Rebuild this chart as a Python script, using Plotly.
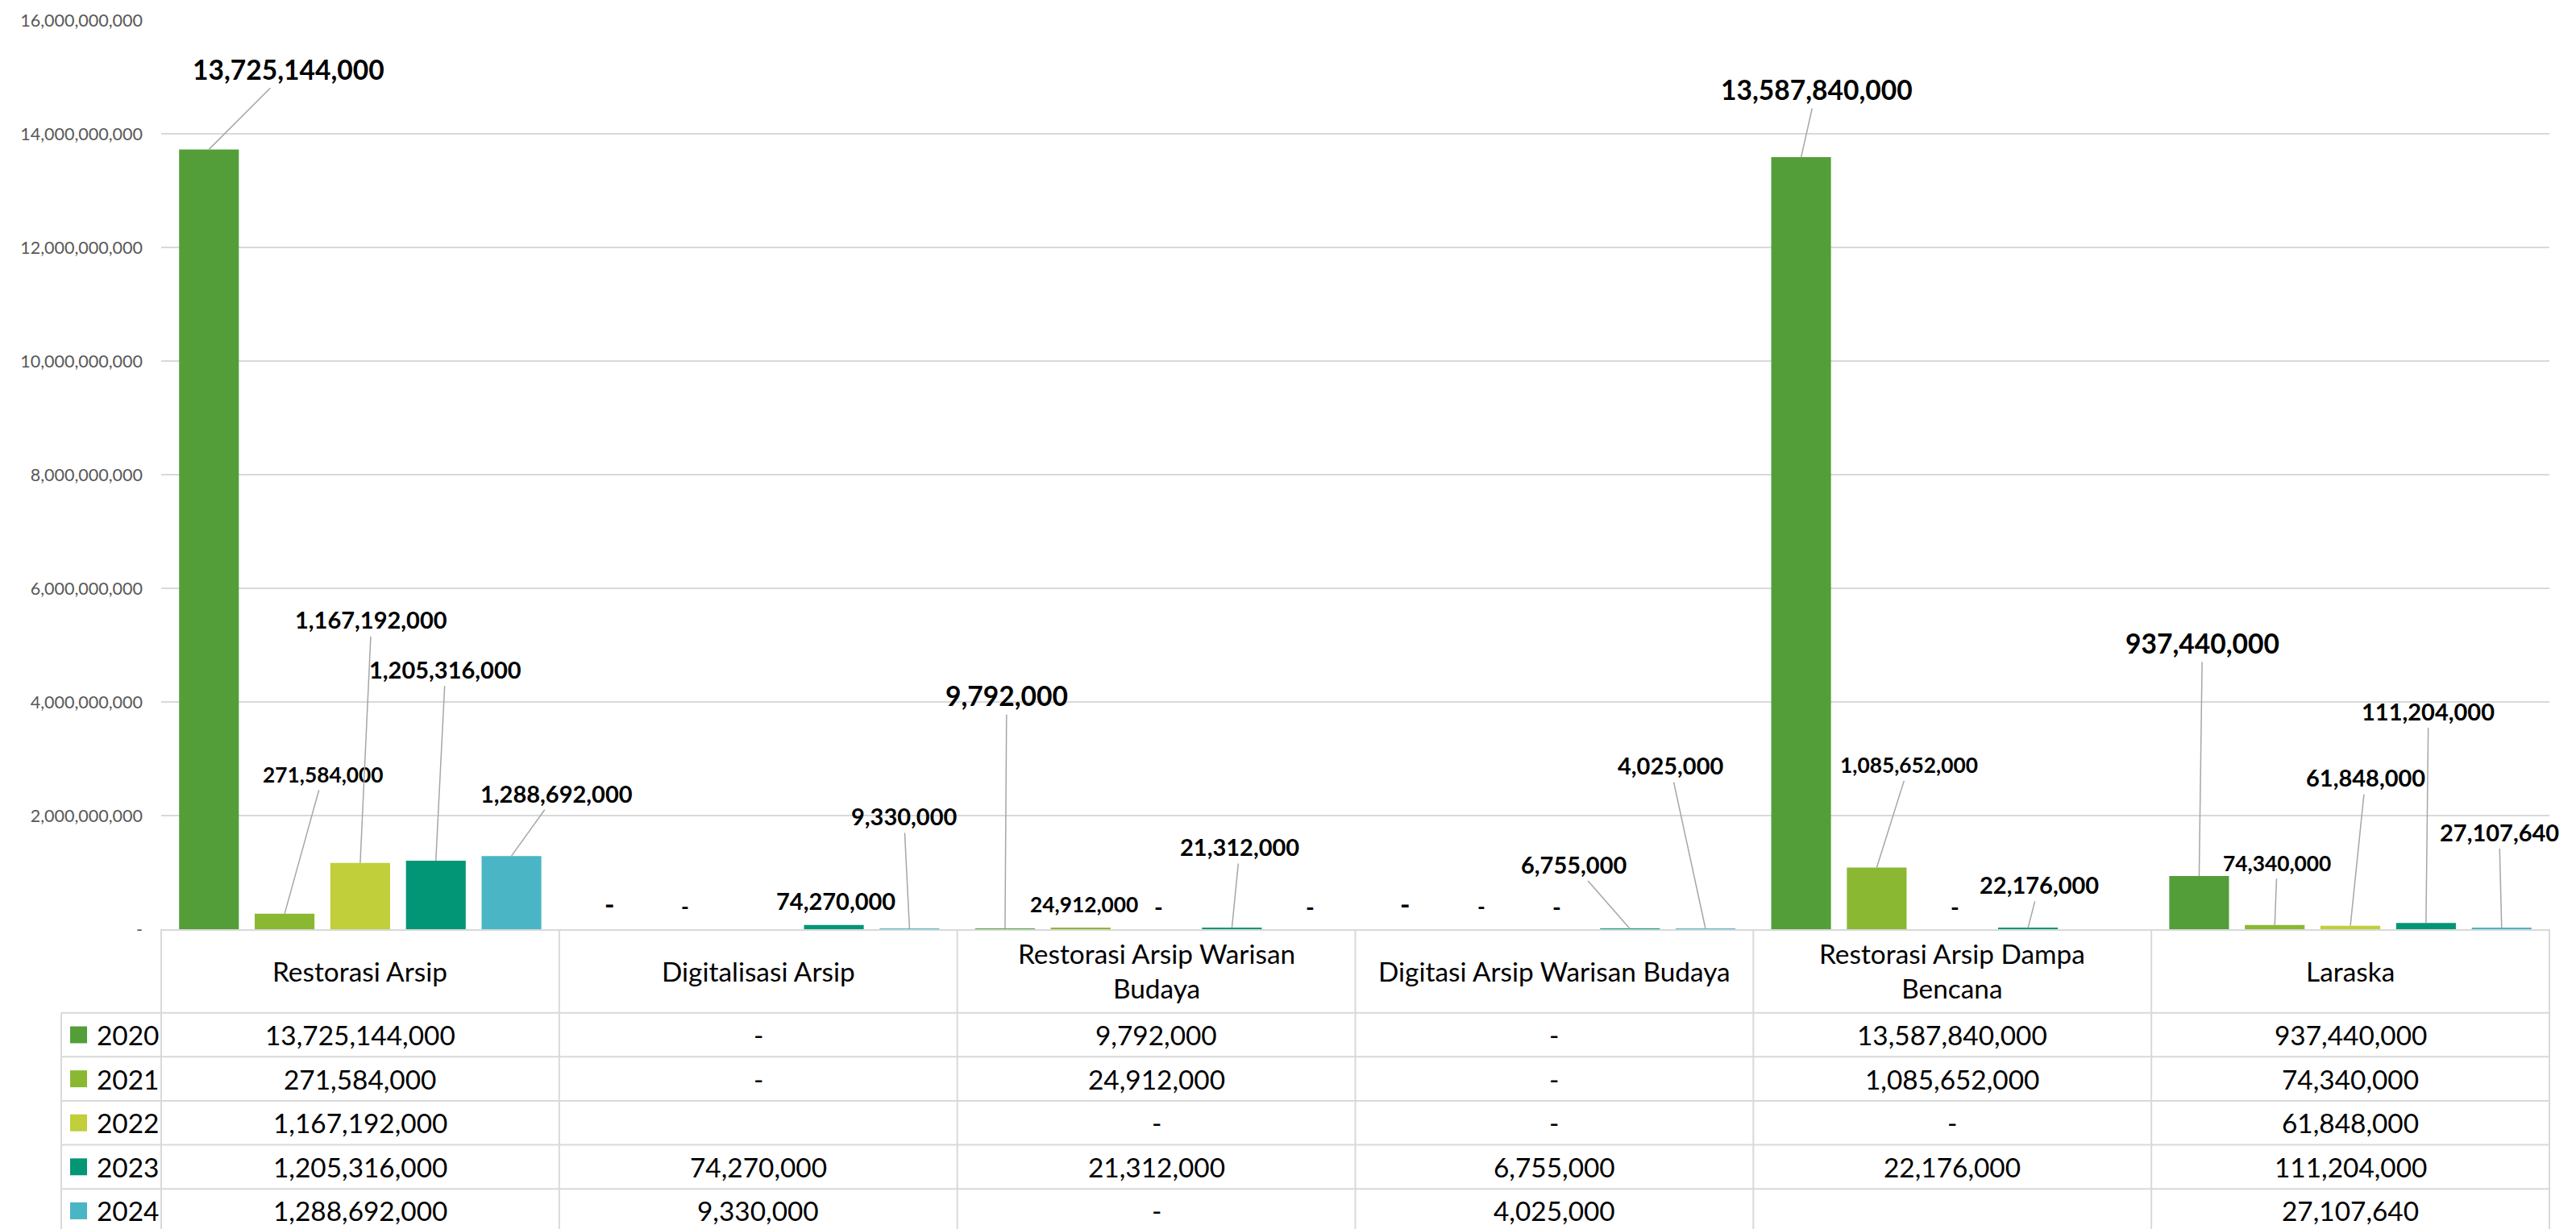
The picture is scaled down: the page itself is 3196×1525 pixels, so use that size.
import plotly.graph_objects as go

# ---------------- data ----------------
categories = ["Restorasi Arsip", "Digitalisasi Arsip", "Restorasi Arsip Warisan Budaya",
              "Digitasi Arsip Warisan Budaya", "Restorasi Arsip Dampa Bencana", "Laraska"]
header_labels = ["Restorasi Arsip", "Digitalisasi Arsip", "Restorasi Arsip Warisan<br>Budaya",
                 "Digitasi Arsip Warisan Budaya", "Restorasi Arsip Dampa<br>Bencana", "Laraska"]
years = ["2020", "2021", "2022", "2023", "2024"]
v2020 = [13725144000, 0, 9792000, 0, 13587840000, 937440000]
v2021 = [271584000, 0, 24912000, 0, 1085652000, 74340000]
v2022 = [1167192000, None, 0, 0, 0, 61848000]
v2023 = [1205316000, 74270000, 21312000, 6755000, 22176000, 111204000]
v2024 = [1288692000, 9330000, 0, 4025000, None, 27107640]
tick_values = [0, 2e9, 4e9, 6e9, 8e9, 10e9, 12e9, 14e9, 16e9]
tick_labels = ["-", "2,000,000,000", "4,000,000,000", "6,000,000,000", "8,000,000,000",
               "10,000,000,000", "12,000,000,000", "14,000,000,000", "16,000,000,000"]

series = [v2020, v2021, v2022, v2023, v2024]

# ---------------- style ----------------
colors = ["#549E39", "#8AB833", "#C0CF3A", "#029676", "#4AB5C4"]
FONT = "Lato, Roboto, 'Open Sans', sans-serif"
label_sizes = [33.6, 26.3, 29, 29, 29]
TABLE_SIZE = 33.4
GRID = "#d9d9d9"
LEADER = "#a6a6a6"

# label placement (pixel offset of label centre from bar top; True = leader line)
label_offsets = {
    0: [(99, -99, True), (3, -31, False), (2, -289, True), (3, -31, False), (19, -84, True), (4, -289, True)],
    1: [(48, -173, True), (3, -28, False), (4, -29, False), (3, -28, False), (40, -127, True), (3, -77, True)],
    2: [(14, -302, True), None, (3, -29, False), (3, -29, False), (3, -29, False), (19, -184, True)],
    3: [(12, -238, True), (2, -30, False), (10, -101, True), (-70, -80, True), (14, -54, True), (3, -263, True)],
    4: [(56, -78, True), (-7, -140, True), (3, -29, False), (-44, -203, True), None, (-3, -119, True)],
}

W, H = 3196, 1525
ML, MR, MT, MB = 200, 33, 22, 372
PW, PH = W - ML - MR, H - MT - MB
BARGAP, GROUPGAP = 0.05, 0.21
HEADER_H, ROW_H, LEG_LEFT = 104, 54.75, 76


def px_x(px):
    return (px - ML) / PW


def px_y(py):
    return (H - MB - py) / PH


fig = go.Figure()
for j, (yr, vals) in enumerate(zip(years, series)):
    fig.add_trace(go.Bar(x=categories, y=vals, name=yr, marker=dict(color=colors[j], line=dict(width=0)),
                         hoverinfo="skip"))

annotations = []
n = len(years)
slot = (1 - BARGAP) / n
for j, vals in enumerate(series):
    for i, v in enumerate(vals):
        off = label_offsets[j][i]
        if v is None or off is None:
            continue
        dx, dy, line = off
        xpos = i + (j - (n - 1) / 2) * slot
        txt = "-" if v == 0 else f"{v:,}"
        f = dict(family=FONT, size=label_sizes[j], color="black", weight="bold")
        if line:
            annotations.append(dict(x=xpos, y=v, xref="x", yref="y", text=txt, font=f,
                                    showarrow=True, arrowhead=0, arrowwidth=1.5, arrowcolor=LEADER,
                                    ax=dx, ay=dy, standoff=0, startstandoff=2))
        else:
            annotations.append(dict(x=xpos, y=v, xref="x", yref="y", text=txt, font=f,
                                    showarrow=False, xshift=dx, yshift=-dy))

# ---------------- data table ----------------
shapes = []
top = H - MB
hdr_bot = top + HEADER_H
tf = dict(family=FONT, size=TABLE_SIZE, color="black")
# header texts
for i, lab in enumerate(header_labels):
    annotations.append(dict(x=i, y=px_y(top + HEADER_H / 2), xref="x", yref="paper", text=lab,
                            font=tf, showarrow=False, xanchor="center", yanchor="middle"))
# horizontal lines
for r in range(n):
    yy = px_y(hdr_bot + r * ROW_H)
    shapes.append(dict(type="line", xref="paper", yref="paper", x0=px_x(LEG_LEFT), x1=1, y0=yy, y1=yy,
                       line=dict(color=GRID, width=2)))
# vertical lines
for k in range(len(categories) + 1):
    xx = k / len(categories)
    shapes.append(dict(type="line", xref="paper", yref="paper", x0=xx, x1=xx, y0=px_y(top), y1=px_y(H + 10),
                       line=dict(color=GRID, width=2)))
shapes.append(dict(type="line", xref="paper", yref="paper", x0=px_x(LEG_LEFT), x1=px_x(LEG_LEFT),
                   y0=px_y(hdr_bot), y1=px_y(H + 10), line=dict(color=GRID, width=2)))
# rows
for r, (yr, vals) in enumerate(zip(years, series)):
    cy = hdr_bot + (r + 0.5) * ROW_H
    shapes.append(dict(type="rect", xref="paper", yref="paper", x0=px_x(87), x1=px_x(108),
                       y0=px_y(cy - 10.5), y1=px_y(cy + 10.5), fillcolor=colors[r], line=dict(width=0)))
    annotations.append(dict(x=px_x(118), y=px_y(cy), xref="paper", yref="paper", text=yr, font=tf,
                            showarrow=False, xanchor="left", yanchor="middle"))
    for i, v in enumerate(vals):
        if v is None:
            continue
        txt = "-" if v == 0 else f"{v:,}"
        annotations.append(dict(x=i, y=px_y(cy), xref="x", yref="paper", text=txt, font=tf,
                                showarrow=False, xanchor="center", yanchor="middle"))

fig.update_layout(
    width=W, height=H,
    margin=dict(l=ML, r=MR, t=MT, b=MB, pad=0),
    paper_bgcolor="white", plot_bgcolor="white",
    barmode="group", bargap=BARGAP, bargroupgap=GROUPGAP,
    showlegend=False,
    annotations=annotations,
    shapes=shapes,
    font=dict(family=FONT),
)
fig.update_xaxes(range=[-0.5, 5.5], showticklabels=False, showgrid=False, showline=True,
                 linecolor=GRID, linewidth=2, ticks="", zeroline=False)
fig.update_yaxes(range=[0, 16e9], tickvals=tick_values, ticktext=tick_labels, showgrid=True,
                 gridcolor=GRID, gridwidth=2, zeroline=False, showline=False,
                 tickfont=dict(family=FONT, size=21.5, color="#595959"), ticklabelstandoff=22)

fig.write_html("out.html", config={"displayModeBar": False},
               post_script="document.body.style.margin='0';document.body.style.overflow='hidden';")
